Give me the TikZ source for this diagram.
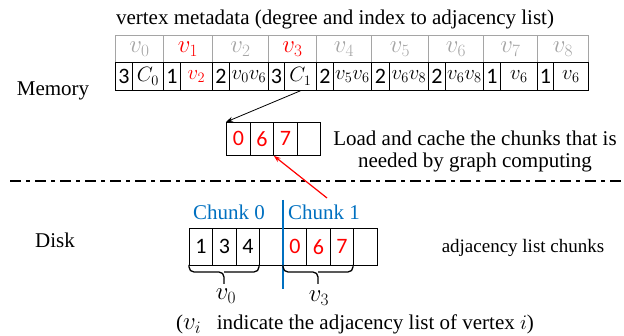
\documentclass[tikz,border=0pt]{standalone}
\usepackage{fontspec}
\setmainfont{Liberation Serif}
\newfontfamily\cellfont{Carlito}
\usetikzlibrary{arrows.meta}
\definecolor{myred}{RGB}{255,0,0}
\definecolor{myblue}{RGB}{0,112,192}
\definecolor{mygray}{RGB}{165,165,165}
\begin{document}
\begin{tikzpicture}[x=1pt,y=-1pt,
  txt/.style={inner sep=0pt, anchor=base, font=\fontsize{21}{21}\selectfont},
  hcell/.style={draw=mygray, line width=0.8pt, inner sep=0pt, anchor=north west, minimum height=27pt, font=\fontsize{23}{23}\selectfont},
  mcell/.style={draw=black, line width=0.8pt, inner sep=0pt, anchor=north west, minimum height=28pt, font=\cellfont\fontsize{22}{22}\selectfont},
  ccell/.style={draw=black, line width=0.8pt, inner sep=0pt, anchor=north west, font=\cellfont\fontsize{22}{22}\selectfont},
  brace/.style={line width=1.3pt, rounded corners=5pt},
  conn/.style={line width=0.8pt, -{Stealth[length=7pt,width=5pt]}}
]
\useasboundingbox (0,0) rectangle (624,336);

% header
\node[txt] (hdr) at (335,25) {vertex metadata (degree and index to adjacency list)};

% top row (vertex ids)
\foreach \a/\b/\t [count=\k] in {115/163/{\color{mygray}$v_0$},163/212/{\color{myred}$v_1$},212/268/{\color{mygray}$v_2$},268/316/{\color{myred}$v_3$},316/371/{\color{mygray}$v_4$},371/428/{\color{mygray}$v_5$},428/483/{\color{mygray}$v_6$},483/537/{\color{mygray}$v_7$},537/588/{\color{mygray}$v_8$}}
  \node[hcell, minimum width=\b-\a] (h\k) at (\a,35) {\t};

% bottom row (degree / index)
\foreach \a/\b/\t [count=\k] in {115/132/3,132/163/{$C_0$},163/180/1,180/212/{\color{myred}$v_2$},212/229/2,229/268/{$v_0v_6$},268/284/3,284/316/{$C_1$},316/333/2,333/371/{$v_5v_6$},371/389/2,389/428/{$v_6v_8$},428/445/2,445/483/{$v_6v_8$},483/500/1,500/537/{$v_6$},537/553/1,553/588/{$v_6$}}
  \node[mcell, minimum width=\b-\a] (m\k) at (\a,62) {\t};

\node[txt] (mem) at (53,96) {Memory};
\node[txt] (disk) at (55,248) {Disk};

% cache
\foreach \a/\b/\t [count=\k] in {226/250/0,250/273/6,273/297/7,297/320/{}}
  \node[ccell, text=myred, minimum width=\b-\a, minimum height=33pt] (c\k) at (\a,122) {\t};

\node[txt] (load1) at (475,146) {Load and cache the chunks that is};
\node[txt] (load2) at (475,168) {needed by graph computing};

% dash-dot separator
\coordinate (sepl) at (10,181);
\coordinate (sepr) at (624,181);
\draw[line width=2.6pt, dash pattern=on 11pt off 5pt on 4pt off 5pt] (sepl) -- (sepr);

% disk chunks
\foreach \a/\b/\t/\c [count=\k] in {189/212/1/black,212/236/3/black,236/259/4/black,259/283/{}/black,283/306/0/myred,306/330/6/myred,330/353/7/myred,353/377/{}/myred}
  \node[ccell, text=\c, minimum width=\b-\a, minimum height=37pt] (d\k) at (\a,228) {\t};

\node[txt, text=myblue] (ch0) at (229,220) {Chunk 0};
\node[txt, text=myblue] (ch1) at (324,220) {Chunk 1};
\coordinate (bt) at (283,200);
\coordinate (bb) at (283,289);
\draw[myblue, line width=1.2pt] (bt) -- (bb);

\node[txt, font=\fontsize{19}{19}\selectfont] (alc) at (523,253) {adjacency list chunks};

% braces
\coordinate (b0l) at (189,265); \coordinate (b0r) at (259,265);
\coordinate (b0m) at (224,272); \coordinate (b0t) at (224,284);
\draw[brace] (b0l) |- (b0m) -- (b0t);
\draw[brace] (b0r) |- (b0m);
\coordinate (b1l) at (283,265); \coordinate (b1r) at (353,265);
\coordinate (b1m) at (318,272); \coordinate (b1t) at (318,284);
\draw[brace] (b1l) |- (b1m) -- (b1t);
\draw[brace] (b1r) |- (b1m);
\node[txt, font=\fontsize{23}{23}\selectfont] (lv0) at (226,300) {$v_0$};
\node[txt, font=\fontsize{23}{23}\selectfont] (lv3) at (319,302) {$v_3$};

\node[txt] (cap) at (355,330) {(\fontsize{23}{23}\selectfont$v_i$\fontsize{21}{21}\selectfont\ \ \ indicate the adjacency list of vertex $i$)};

% arrows
\draw[conn] (m8.south) -- (c1.north west);
\coordinate (rs) at (327,198);
\draw[conn, myred, line width=1.2pt] (rs) -- (c2.south east);
\end{tikzpicture}
\end{document}
